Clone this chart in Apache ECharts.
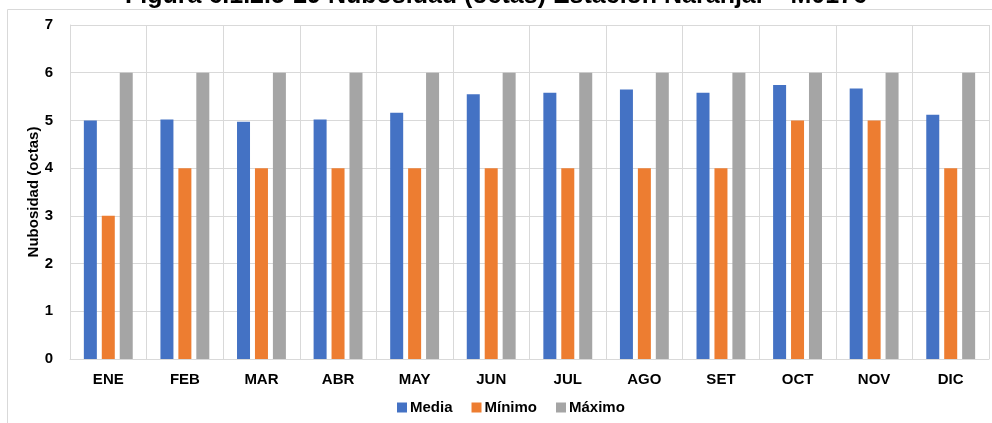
<!DOCTYPE html>
<html lang="es">
<head>
    <meta charset="UTF-8">
    <title>Nubosidad Naranjal</title>
    <style>
        html, body { margin: 0; padding: 0; background: #fff; }
        #main { width: 992px; height: 423px; }
    </style>
</head>
<body>
<div id="main"></div>
<script src="https://cdn.jsdelivr.net/npm/echarts@6/dist/echarts.min.js"></script>
<script>
    var meses = ['ENE', 'FEB', 'MAR', 'ABR', 'MAY', 'JUN', 'JUL', 'AGO', 'SET', 'OCT', 'NOV', 'DIC'];
    var media = [5.00, 5.02, 4.97, 5.02, 5.16, 5.55, 5.58, 5.65, 5.58, 5.74, 5.67, 5.12];
    var minimo = [3, 4, 4, 4, 4, 4, 4, 4, 4, 5, 5, 4];
    var maximo = [6, 6, 6, 6, 6, 6, 6, 6, 6, 6, 6, 6];
    var yTicks = [0, 1, 2, 3, 4, 5, 6, 7];

    var fuente = 'Liberation Sans, Arial, sans-serif';
    var myChart = echarts.init(document.getElementById('main'));

    function serie(nombre, datos, color) {
        return {
            name: nombre,
            type: 'bar',
            data: datos,
            barWidth: 13,
            barGap: '38%',
            itemStyle: { color: color }
        };
    }

    var option = {
        animation: false,
        title: {
            text: 'Figura 6.1.2.5-29 Nubosidad (octas) Estación Naranjal – M0176',
            left: 'center',
            top: -21,
            textStyle: { fontFamily: fuente, fontSize: 25, fontWeight: 'bold', color: '#000' }
        },
        graphic: [{
            type: 'rect',
            shape: { x: 7.5, y: 9.5, width: 990, height: 420 },
            style: { fill: 'none', stroke: '#d9d9d9', lineWidth: 1 },
            silent: true
        }],
        legend: {
            bottom: 3,
            left: 392,
            itemWidth: 10,
            itemHeight: 10,
            itemGap: 19,
            icon: 'rect',
            textStyle: { fontFamily: fuente, fontSize: 15, fontWeight: 'bold', color: '#000', padding: [0, 0, 0, -2] },
            data: ['Media', 'Mínimo', 'Máximo']
        },
        grid: {
            left: 70,
            right: 3,
            top: 25,
            bottom: 64
        },
        xAxis: {
            type: 'category',
            data: meses,
            axisLine: { lineStyle: { color: '#d9d9d9' } },
            axisTick: { show: false },
            splitLine: { show: true, lineStyle: { color: '#d9d9d9' } },
            axisLabel: {
                margin: 13,
                fontFamily: fuente, fontSize: 15, fontWeight: 'bold', color: '#000'
            }
        },
        yAxis: {
            type: 'value',
            min: yTicks[0],
            max: yTicks[yTicks.length - 1],
            interval: 1,
            name: 'Nubosidad (octas)',
            nameLocation: 'middle',
            nameGap: 29,
            nameMoveOverlap: false,
            nameTextStyle: { fontFamily: fuente, fontSize: 15, fontWeight: 'bold', color: '#000' },
            axisLine: { show: true, lineStyle: { color: '#d9d9d9' } },
            axisTick: { show: false },
            splitLine: { lineStyle: { color: '#d9d9d9' } },
            axisLabel: {
                margin: 17,
                fontFamily: fuente, fontSize: 15, fontWeight: 'bold', color: '#000'
            }
        },
        series: [
            serie('Media', media, '#4472c4'),
            serie('Mínimo', minimo, '#ed7d31'),
            serie('Máximo', maximo, '#a5a5a5')
        ]
    };

    myChart.setOption(option);
</script>
</body>
</html>
